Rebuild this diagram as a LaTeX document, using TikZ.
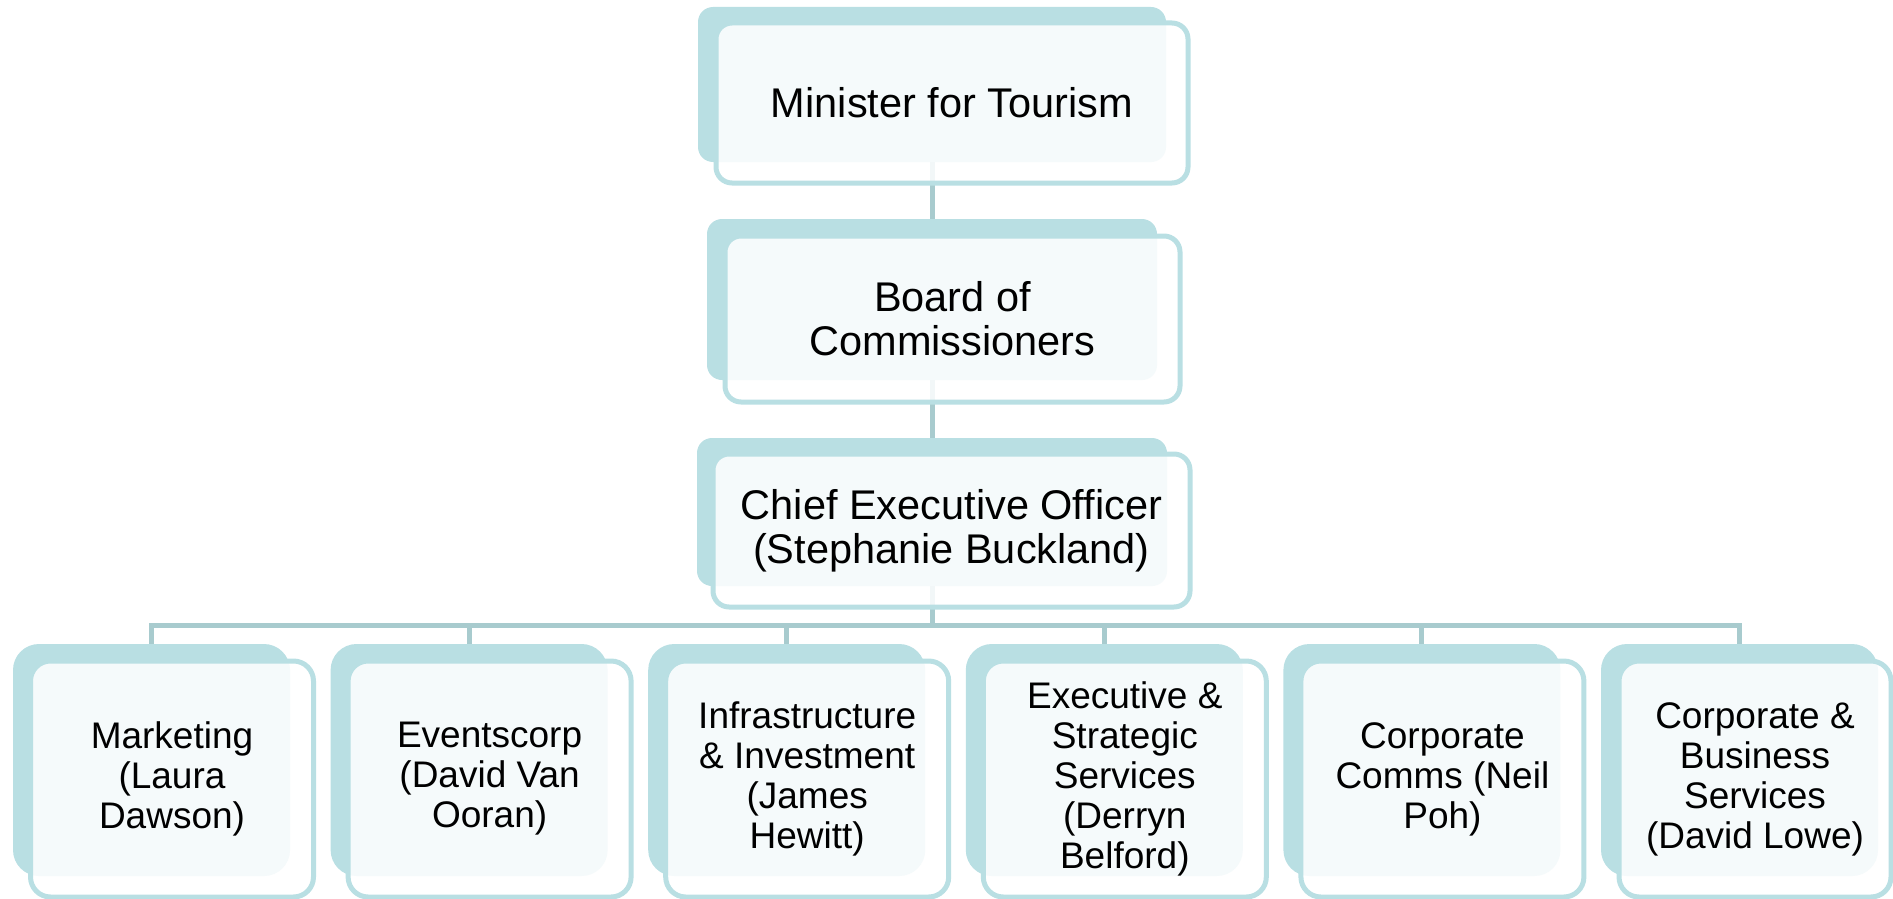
\documentclass[tikz,border=0pt]{standalone}
\usepackage{fontspec}
\setmainfont{Liberation Sans}
\definecolor{backteal}{HTML}{B9DFE3}
\definecolor{linkteal}{HTML}{A8CBCE}
\tikzset{
  x=1pt, y=-1pt,
  backbox/.style={rectangle, rounded corners=#1, fill=backteal, draw=none, inner sep=0pt, outer sep=0pt},
  frontbox/.style={rectangle, rounded corners=#1, draw=backteal, line width=5pt, fill=white, fill opacity=0.86, text opacity=1, inner sep=0pt, outer sep=0pt, align=center, text=black},
  toptext/.style={font=\fontsize{41.5}{44}\selectfont},
  bottext/.style={font=\fontsize{37}{40}\selectfont},
  link/.style={draw=linkteal, line width=5pt}
}
\begin{document}
\begin{tikzpicture}
\useasboundingbox (0,0) rectangle (1893,899);
% back boxes
\node[backbox=15pt, minimum width=468pt, minimum height=155pt] (mb) at (932,84.5) {};
\node[backbox=15pt, minimum width=450pt, minimum height=161pt] (bb) at (932,299.5) {};
\node[backbox=15pt, minimum width=470pt, minimum height=148pt] (cb) at (932,512) {};
\foreach \i in {1,...,6}{
  \node[backbox=26pt, minimum width=277pt, minimum height=232pt] (b\i) at ({13+317.6*(\i-1)+138.5},760) {};
}
% connectors
\coordinate (bar) at (0,625);
\draw[link] (mb.south) -- (bb.north);
\draw[link] (bb.south) -- (cb.north);
\draw[link] (cb.south) -- (cb.south |- bar);
\draw[link, line cap=rect] (b1.north |- bar) -- (b6.north |- bar);
\foreach \i in {1,...,6}{
  \draw[link] (b\i.north |- bar) -- (b\i.north);
}
% front boxes
\node[frontbox=16pt, toptext, minimum width=472pt, minimum height=160pt] (mf) at (952,103) {Minister for Tourism};
\node[frontbox=16pt, toptext, minimum width=455pt, minimum height=166pt] (bf) at (952.5,319) {Board of\\Commissioners};
\node[frontbox=16pt, toptext, minimum width=477pt, minimum height=153pt] (cf) at (951.5,530.5) {Chief Executive Officer\\(Stephanie Buckland)};
\node[frontbox=20pt, bottext, minimum width=283pt, minimum height=236pt] (f1) at ({13+317.6*0+159},779) {Marketing\\(Laura\\Dawson)};
\node[frontbox=20pt, bottext, minimum width=283pt, minimum height=236pt] (f2) at ({13+317.6*1+159},779) {Eventscorp\\(David Van\\Ooran)};
\node[frontbox=20pt, bottext, minimum width=283pt, minimum height=236pt] (f3) at ({13+317.6*2+159},779) {Infrastructure\\\& Investment\\(James\\Hewitt)};
\node[frontbox=20pt, bottext, minimum width=283pt, minimum height=236pt] (f4) at ({13+317.6*3+159},779) {Executive \&\\Strategic\\Services\\(Derryn\\Belford)};
\node[frontbox=20pt, bottext, minimum width=283pt, minimum height=236pt] (f5) at ({13+317.6*4+159},779) {Corporate\\Comms (Neil\\Poh)};
\node[frontbox=20pt, bottext, minimum width=272pt, minimum height=236pt] (f6) at (1755,779) {Corporate \&\\Business\\Services\\(David Lowe)};
\end{tikzpicture}
\end{document}
